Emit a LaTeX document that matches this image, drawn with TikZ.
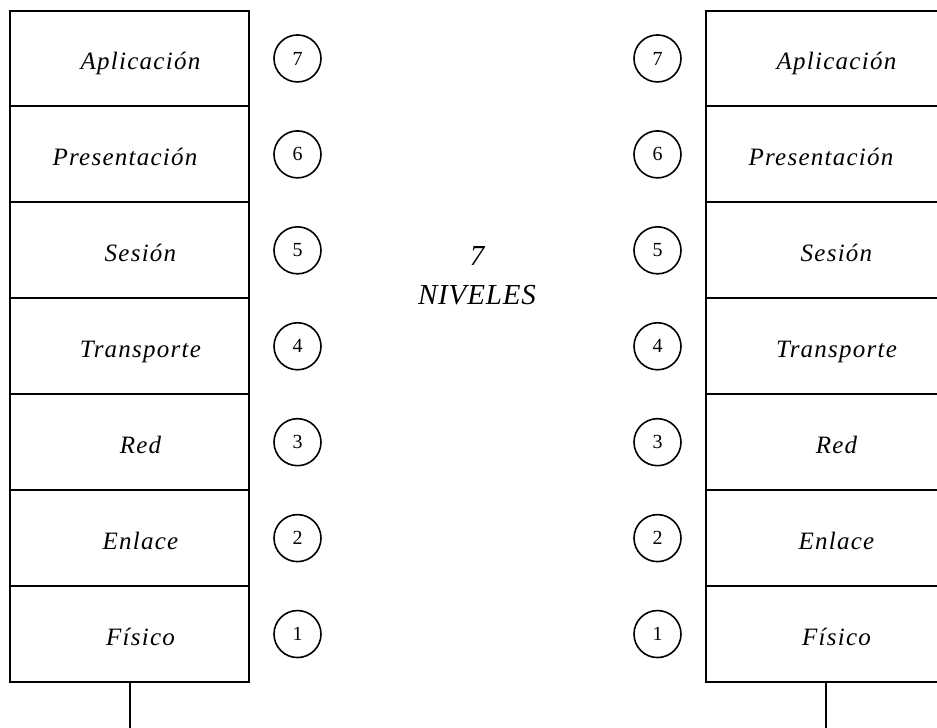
\documentclass[tikz,border=0pt]{standalone}
\usepackage{fontspec}
\setmainfont{Liberation Serif}
\newfontfamily\layerfont[LetterSpace=5]{Liberation Serif}
\newfontfamily\titlefont[LetterSpace=3]{Liberation Serif}
\begin{document}
\begin{tikzpicture}[x=1pt,y=-1pt,
  layer/.style={draw, line width=2pt, minimum width=239pt, minimum height=95.93pt,
    inner sep=0pt, text height=23pt, text depth=0pt,
    font=\layerfont\itshape\fontsize{25}{28}\selectfont},
  num/.style={draw, circle, line width=1.6pt, minimum size=47pt, inner sep=0pt,
    font=\fontsize{20}{22}\selectfont},
  stem/.style={line width=2pt},
  title/.style={align=center, font=\titlefont\itshape\fontsize{29}{39}\selectfont}]
  \useasboundingbox (0,0) rectangle (937,728);
  \clip (0,0) rectangle (937,728);
  % two protocol stacks, layer 7 on top
  \foreach \n/\t/\o in {7/Aplicación/22, 6/Presentación/-9, 5/Sesión/22,
      4/Transporte/22, 3/Red/22, 2/Enlace/22, 1/Físico/22} {
    \pgfmathsetmacro{\yy}{10.5+95.93*(7-\n+0.5)}
    \node[layer] (L\n) at (129.5,\yy) {\hspace*{\o pt}\t};
    \node[layer] (R\n) at (825.5,\yy) {\hspace*{\o pt}\t};
    \node[num] (cL\n) at (297.5,\yy) {\n};
    \node[num] (cR\n) at (657.5,\yy) {\n};
  }
  % links below the physical layer
  \coordinate (lb) at (129.5,728);
  \coordinate (rb) at (825.5,728);
  \draw[stem] (L1.south) -- (lb);
  \draw[stem] (R1.south) -- (rb);
  \node[title] (t) at (477,276) {7\\NIVELES};
\end{tikzpicture}
\end{document}
